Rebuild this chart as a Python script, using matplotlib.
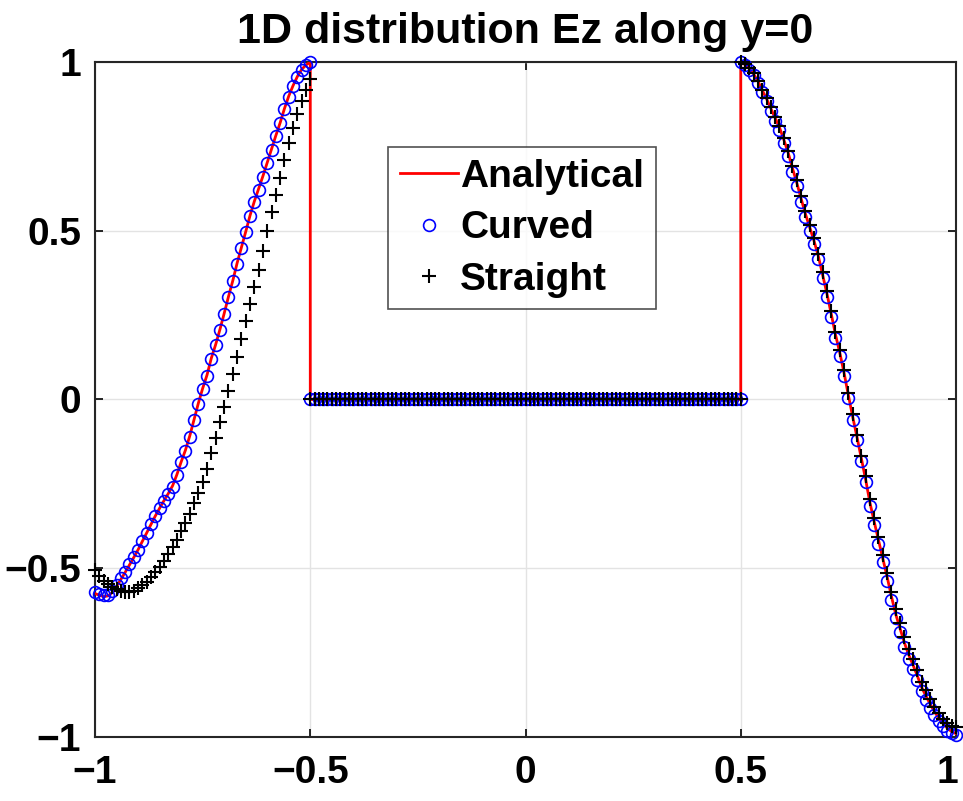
import numpy as np
import matplotlib
matplotlib.use("Agg")
import matplotlib.pyplot as plt
from matplotlib.transforms import ScaledTranslation

# x grid of the sampled solution (step 0.01); the boundaries x=-0.5 and x=0.5
# appear twice, once for the outer region and once for the inner one
x_left = np.round(np.arange(-1.0, -0.4999, 0.01), 2)
x_mid = np.round(np.arange(-0.5, 0.5001, 0.01), 2)
x_right = np.round(np.arange(0.5, 1.0001, 0.01), 2)

# Curved mesh, left region (-1 .. -0.5)
curved_left = [-0.570, -0.575, -0.580, -0.578, -0.568, -0.550, -0.530, -0.510, -0.488, -0.467,
               -0.445, -0.420, -0.395, -0.370, -0.345, -0.322, -0.300, -0.280, -0.258, -0.225,
               -0.186, -0.152, -0.110, -0.062, -0.013, 0.031, 0.070, 0.120, 0.160, 0.205,
               0.253, 0.303, 0.350, 0.402, 0.448, 0.495, 0.543, 0.585, 0.622, 0.660,
               0.700, 0.740, 0.780, 0.818, 0.860, 0.897, 0.928, 0.955, 0.977, 0.990,
               1.000]
# Straight mesh, left region
straight_left = [-0.505, -0.522, -0.537, -0.548, -0.556, -0.562, -0.567, -0.570, -0.571, -0.567,
                 -0.560, -0.550, -0.540, -0.527, -0.512, -0.495, -0.478, -0.458, -0.437, -0.415,
                 -0.390, -0.365, -0.338, -0.308, -0.278, -0.245, -0.205, -0.160, -0.115, -0.068,
                 -0.022, 0.025, 0.075, 0.125, 0.180, 0.232, 0.282, 0.332, 0.385, 0.440,
                 0.500, 0.555, 0.605, 0.655, 0.710, 0.760, 0.805, 0.845, 0.885, 0.918,
                 0.950]
# Analytical, left region
ana_left = [-0.575, -0.580, -0.584, -0.582, -0.572, -0.554, -0.533, -0.512, -0.490, -0.468,
            -0.445, -0.420, -0.395, -0.370, -0.345, -0.322, -0.300, -0.279, -0.256, -0.223,
            -0.185, -0.150, -0.108, -0.060, -0.011, 0.033, 0.072, 0.122, 0.162, 0.207,
            0.255, 0.305, 0.352, 0.404, 0.450, 0.497, 0.545, 0.587, 0.624, 0.662,
            0.702, 0.742, 0.782, 0.820, 0.862, 0.899, 0.930, 0.957, 0.978, 0.991,
            1.000]

# inner region: field is zero for all three
curved_mid = [0.0] * len(x_mid)
straight_mid = [0.0] * len(x_mid)
ana_mid = [0.0] * len(x_mid)

# right region (0.5 .. 1)
curved_right = [1.000, 0.990, 0.977, 0.960, 0.938, 0.910, 0.885, 0.855, 0.826, 0.798,
                0.760, 0.722, 0.675, 0.632, 0.585, 0.540, 0.500, 0.460, 0.415, 0.360,
                0.305, 0.245, 0.183, 0.130, 0.070, 0.004, -0.060, -0.120, -0.183, -0.245,
                -0.315, -0.372, -0.428, -0.482, -0.537, -0.595, -0.648, -0.690, -0.732, -0.768,
                -0.798, -0.830, -0.864, -0.890, -0.913, -0.935, -0.953, -0.968, -0.981, -0.989,
                -0.994]
straight_right = [1.000, 0.993, 0.981, 0.966, 0.945, 0.918, 0.894, 0.866, 0.838, 0.811,
                  0.775, 0.737, 0.692, 0.650, 0.602, 0.558, 0.518, 0.478, 0.432, 0.378,
                  0.322, 0.262, 0.200, 0.146, 0.086, 0.020, -0.044, -0.104, -0.166, -0.228,
                  -0.296, -0.352, -0.406, -0.460, -0.513, -0.570, -0.622, -0.663, -0.705, -0.740,
                  -0.770, -0.802, -0.836, -0.862, -0.887, -0.910, -0.930, -0.946, -0.958, -0.966,
                  -0.970]
ana_right = [1.000, 0.992, 0.980, 0.964, 0.943, 0.916, 0.891, 0.862, 0.834, 0.806,
             0.770, 0.732, 0.686, 0.643, 0.596, 0.551, 0.511, 0.471, 0.426, 0.371,
             0.315, 0.255, 0.193, 0.139, 0.079, 0.013, -0.051, -0.111, -0.174, -0.236,
             -0.305, -0.362, -0.417, -0.471, -0.525, -0.583, -0.636, -0.678, -0.720, -0.756,
             -0.786, -0.818, -0.852, -0.878, -0.902, -0.925, -0.944, -0.960, -0.974, -0.984,
             -0.990]

x_all = np.concatenate([x_left, x_mid, x_right])
ana = np.concatenate([ana_left, ana_mid, ana_right])
curved = np.concatenate([curved_left, curved_mid, curved_right])
straight = np.concatenate([straight_left, straight_mid, straight_right])

ticks = [-1, -0.5, 0, 0.5, 1]
tick_labels = ["\u22121", "\u22120.5", "0", "0.5", "1"]

plt.rcParams["font.family"] = ["Liberation Sans", "DejaVu Sans"]
plt.rcParams["font.weight"] = "bold"

fig = plt.figure(figsize=(9.63, 8.01), dpi=100)
ax = fig.add_axes([0.0987, 0.0799, 0.8940, 0.8427])

ax.plot(x_all, ana, color="#ff0000", linewidth=2.0, label="Analytical", zorder=3)
ax.plot(x_all, curved, linestyle="none", marker="o", markersize=8.5, markerfacecolor="none",
        markeredgecolor="#0000ff", markeredgewidth=1.2, label="Curved", zorder=4, clip_on=False)
ax.plot(x_all, straight, linestyle="none", marker="+", markersize=9.5, color="black",
        markeredgewidth=1.5, label="Straight", zorder=5, clip_on=False)

ax.set_xlim(-1, 1)
ax.set_ylim(-1, 1)
ax.set_xticks(ticks)
ax.set_xticklabels(tick_labels)
ax.set_yticks(ticks)
ax.set_yticklabels(tick_labels)
ax.tick_params(direction="in", length=6, width=1.2, labelsize=28, top=True, right=True)
ax.tick_params(axis="x", pad=13)
ax.tick_params(axis="y", pad=10)
for lab in ax.get_xticklabels() + ax.get_yticklabels():
    lab.set_fontweight("bold")
# keep the last x label inside the figure edge
last = ax.get_xticklabels()[-1]
last.set_transform(last.get_transform() + ScaledTranslation(-6 / 72, 0, fig.dpi_scale_trans))

ax.grid(True, color="#e3e3e3", linewidth=1.0)
ax.set_axisbelow(True)
for sp in ax.spines.values():
    sp.set_linewidth(1.5)
    sp.set_color("#262626")

ax.set_title("1D distribution Ez along y=0", fontsize=31, fontweight="bold", pad=14)

leg = ax.legend(loc="upper left", bbox_to_anchor=(0.3403, 0.874), fontsize=28, frameon=True,
                fancybox=False, edgecolor="#262626", handlelength=1.5, borderpad=0.3,
                labelspacing=0.4, handletextpad=0.05, borderaxespad=0)
leg.get_frame().set_linewidth(1.2)
for t in leg.get_texts():
    t.set_fontweight("bold")

fig.savefig("out.png", dpi=100)
